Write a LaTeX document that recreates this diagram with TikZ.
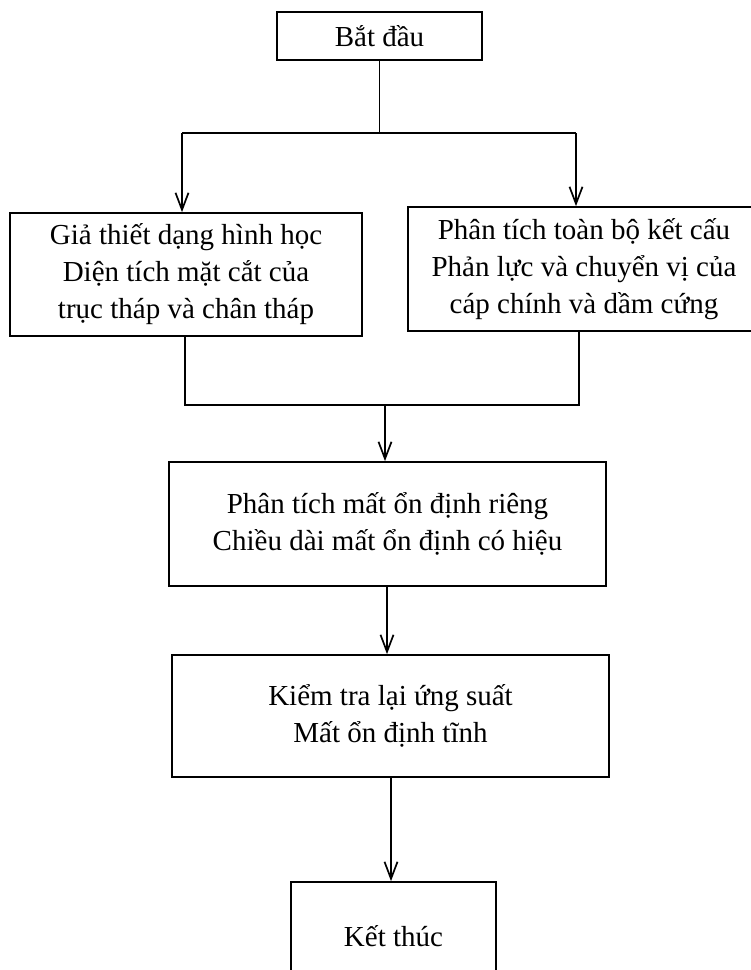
\documentclass[tikz,border=0pt]{standalone}
\usepackage{fontspec}
\setmainfont{Liberation Serif}
\usetikzlibrary{arrows.meta}
\tikzset{
  box/.style={draw, line width=1.7pt, inner sep=0pt, align=center,
    font=\fontsize{29}{37}\selectfont},
  conn/.style={line width=1.7pt},
  arr/.style={conn, -{Straight Barb[length=17pt,width=13pt,line width=1.7pt]}}
}
\begin{document}
\begin{tikzpicture}[x=1pt,y=-1pt]
\useasboundingbox (0,0) rectangle (751,970);
\clip (0,0) rectangle (751,970);
\fill[white] (0,0) rectangle (751,970);
\node[box, minimum width=205, minimum height=48] (start) at (379.5,36) {Bắt đầu};
\node[box, minimum width=352, minimum height=123] (left) at (186,274.5)
  {Giả thiết dạng hình học\\Diện tích mặt cắt của\\trục tháp và chân tháp};
\node[box, minimum width=352, minimum height=124] (right) at (584,269)
  {Phân tích toàn bộ kết cấu\\Phản lực và chuyển vị của\\cáp chính và dầm cứng};
\node[box, minimum width=437, minimum height=124] (b1) at (387.5,524)
  {Phân tích mất ổn định riêng\\Chiều dài mất ổn định có hiệu};
\node[box, minimum width=437, minimum height=122] (b2) at (390.5,716)
  {Kiểm tra lại ứng suất\\Mất ổn định tĩnh};
\node[box, minimum width=205, minimum height=108] (end) at (393.5,936) {Kết thúc};

\coordinate (sM) at (379.5,133);
\coordinate (sL) at (182,133);
\coordinate (sR) at (576,133);
\coordinate (mL) at (185,405);
\coordinate (mR) at (579,405);
\coordinate (mM) at (385,405);

\draw[conn] (start.south) -- (sM);
\draw[conn] (sL) -- (sR);
\draw[arr] (sL) -- (sL |- left.north);
\draw[arr] (sR) -- (sR |- right.north);
\draw[conn] (left.south -| mL) -- (mL) -- (mR) -- (right.south -| mR);
\draw[arr] (mM) -- (mM |- b1.north);
\draw[arr] (b1.south -| 387,0) -- (b2.north -| 387,0);
\draw[arr] (b2.south -| 391,0) -- (end.north -| 391,0);
\end{tikzpicture}
\end{document}
